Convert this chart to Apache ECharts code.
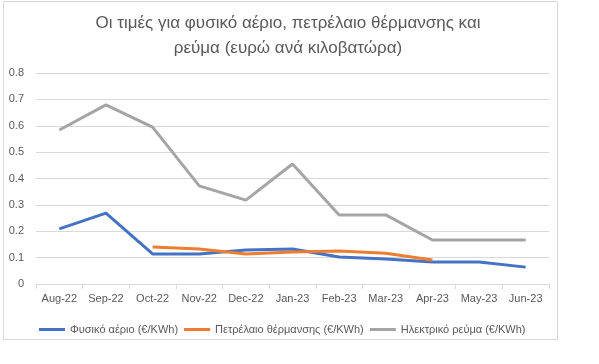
<!DOCTYPE html>
<html><head><meta charset="utf-8">
<script src="https://cdn.jsdelivr.net/npm/echarts@6/dist/echarts.min.js"></script>
<style>html,body{margin:0;padding:0;background:#fff}#c{width:599px;height:364px}</style>
</head><body><div id="c"></div>
<script>
const categories = ['Aug-22','Sep-22','Oct-22','Nov-22','Dec-22','Jan-23','Feb-23','Mar-23','Apr-23','May-23','Jun-23'];
const gasName = 'Φυσικό αέριο (€/KWh)';
const oilName = 'Πετρέλαιο θέρμανσης (€/KWh)';
const elecName = 'Ηλεκτρικό ρεύμα (€/KWh)';
const gas = [0.209, 0.269, 0.114, 0.114, 0.129, 0.133, 0.102, 0.095, 0.083, 0.083, 0.064];
const oil = [null, null, 0.14, 0.133, 0.114, 0.121, 0.125, 0.117, 0.091, null, null];
const elec = [0.584, 0.679, 0.595, 0.372, 0.318, 0.455, 0.262, 0.262, 0.167, 0.167, 0.167];
const yTicks = {min: 0, max: 0.8, interval: 0.1};
const font = '"Liberation Sans", Arial, sans-serif';
const chart = echarts.init(document.getElementById('c'));
const mk = (name, data, color) => ({
  name, type: 'line', data, symbol: 'none', connectNulls: false,
  lineStyle: {color, width: 3}, itemStyle: {color}
});
chart.setOption({
  animation: false,
  graphic: [{type: 'rect', shape: {x: 3.5, y: 1.5, width: 554, height: 338}, style: {fill: 'none', stroke: '#d9d9d9', lineWidth: 1}}],
  title: {
    text: 'Οι τιμές για φυσικό αέριο, πετρέλαιο θέρμανσης και\nρεύμα (ευρώ ανά κιλοβατώρα)',
    left: 283, textAlign: 'center', top: 6,
    textStyle: {fontFamily: font, fontSize: 17, fontWeight: 'normal', color: '#595959', lineHeight: 25}
  },
  legend: {
    top: 319, left: 34, itemWidth: 26, itemHeight: 3, icon: 'rect', itemGap: 6,
    textStyle: {fontFamily: font, fontSize: 11, color: '#595959'},
    data: [gasName, oilName, elecName]
  },
  grid: {left: 36, right: 50, top: 73, bottom: 80},
  xAxis: {
    type: 'category', data: categories, boundaryGap: true,
    axisLine: {lineStyle: {color: '#d9d9d9'}},
    axisTick: {show: true, length: 5, lineStyle: {color: '#d9d9d9'}},
    axisLabel: {fontFamily: font, fontSize: 11, color: '#595959', margin: 9, interval: 0}
  },
  yAxis: {
    type: 'value', min: yTicks.min, max: yTicks.max, interval: yTicks.interval,
    axisLine: {show: false}, axisTick: {show: false},
    splitLine: {lineStyle: {color: '#d9d9d9'}},
    axisLabel: {fontFamily: font, fontSize: 11, color: '#595959', margin: 12,
      formatter: v => String(Math.round(v * 10) / 10)}
  },
  series: [mk(gasName, gas, '#4472C4'), mk(oilName, oil, '#ED7D31'), mk(elecName, elec, '#A5A5A5')]
});
</script></body></html>
